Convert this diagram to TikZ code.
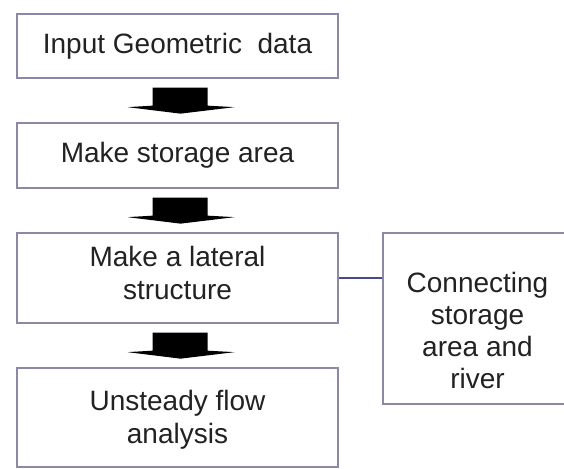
\documentclass[tikz,border=0pt]{standalone}
\usepackage{fontspec}
\setmainfont{Liberation Sans}
\usetikzlibrary{calc}
\definecolor{boxline}{HTML}{8A8AA6}
\definecolor{linkline}{HTML}{48488A}
\definecolor{txt}{HTML}{222222}
\tikzset{
  flowbox/.style={draw=boxline, line width=1.3pt, fill=white, rectangle,
    minimum width=321pt, align=center, text=txt, inner sep=0pt,
    font=\fontsize{28pt}{33pt}\selectfont},
  sidebox/.style={flowbox, minimum width=189pt, minimum height=171pt},
  boxtext/.style={align=center, text=txt, inner sep=0pt,
    font=\fontsize{28pt}{33pt}\selectfont},
  sidetext/.style={boxtext, font=\fontsize{28pt}{32pt}\selectfont},
  blockarrow/.style={fill=black},
  linkstyle/.style={draw=linkline, line width=1.5pt}
}
\newcommand{\blkarrow}[1]{%
  \fill[blockarrow] ($(#1)+(-25,9)$) -- ($(#1)+(30,9)$) -- ($(#1)+(30,27)$)
    -- ($(#1)+(57,28.5)$) -- ($(#1)+(3,35)$) -- ($(#1)+(-50,28.5)$)
    -- ($(#1)+(-25,27)$) -- cycle;}
\begin{document}
\begin{tikzpicture}[x=1pt,y=-1pt]
\useasboundingbox (0,0) rectangle (564,468);
\clip (0,0) rectangle (564,468);
\node[flowbox, minimum height=64pt] (b1) at (177.5,46) {Input Geometric\ \ data};
\node[flowbox, minimum height=65pt] (b2) at (177.5,155.5) {Make storage area};
\node[flowbox, minimum height=90pt] (b3) at (177.5,278) {};
\node[boxtext] (t3) at ($(b3.center)+(0,-5)$) {Make a lateral\\structure};
\node[flowbox, minimum height=99pt] (b4) at (177.5,417.5) {};
\node[boxtext] (t4) at ($(b4.center)+(0,2.5)$) {Unsteady flow\\analysis};
\node[sidebox] (s) at (477.5,318.5) {};
\node[sidetext] (ts) at ($(s.center)+(0,11.5)$) {Connecting\\storage\\area and\\river};
\coordinate (a1) at (b1.south);
\coordinate (a2) at (b2.south);
\coordinate (a3) at (b3.south);
\blkarrow{a1}
\blkarrow{a2}
\blkarrow{a3}
\draw[linkstyle] (b3.east) -- (b3.east -| s.west);
\end{tikzpicture}
\end{document}
